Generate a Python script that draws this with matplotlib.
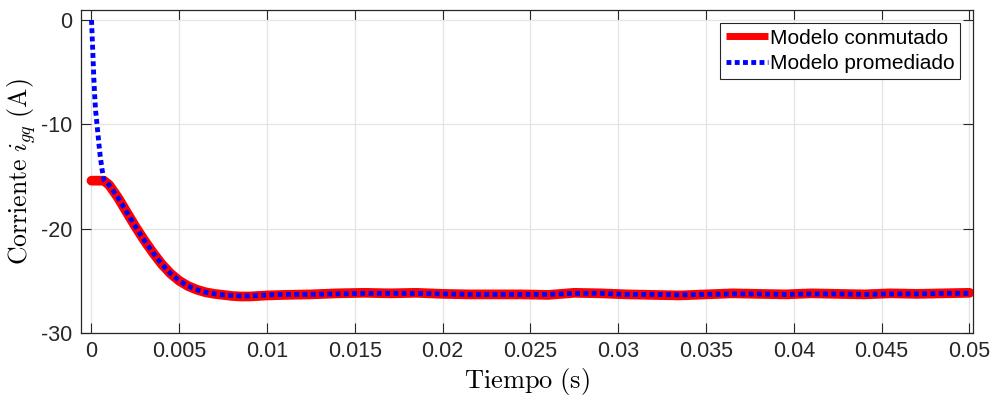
import numpy as np
import matplotlib.pyplot as plt

plt.rcParams['font.family'] = ['Liberation Sans', 'DejaVu Sans']
plt.rcParams['mathtext.fontset'] = 'cm'

# Modelo conmutado
t_conm = [0.0, 0.0003, 0.0007, 0.001, 0.0015, 0.002, 0.0025, 0.003, 0.0035,
          0.004, 0.0045, 0.005, 0.0055, 0.006, 0.0065, 0.007, 0.0075, 0.008,
          0.0085, 0.009, 0.0095, 0.010, 0.011, 0.0125, 0.014, 0.0155, 0.017,
          0.0185, 0.02, 0.0215, 0.023, 0.0245, 0.026, 0.0275, 0.029, 0.0305,
          0.032, 0.0335, 0.035, 0.0365, 0.038, 0.0395, 0.041, 0.0425, 0.044,
          0.0455, 0.047, 0.0485, 0.05]
i_conm = [-15.4, -15.4, -15.4, -15.8, -17.0, -18.4, -19.8, -21.1, -22.3,
          -23.4, -24.3, -25.0, -25.5, -25.85, -26.1, -26.25, -26.35, -26.45,
          -26.5, -26.5, -26.45, -26.4, -26.35, -26.3, -26.2, -26.15, -26.2,
          -26.15, -26.25, -26.3, -26.3, -26.3, -26.35, -26.15, -26.2, -26.3,
          -26.35, -26.4, -26.3, -26.2, -26.25, -26.3, -26.2, -26.25, -26.3,
          -26.2, -26.25, -26.2, -26.15]

# Modelo promediado
t_prom = [0.0, 0.00003, 0.00008, 0.00013, 0.00018, 0.00023, 0.0003, 0.00036,
          0.00043, 0.0005, 0.0006, 0.0007, 0.001, 0.0015, 0.002, 0.0025, 0.003,
          0.0035, 0.004, 0.0045, 0.005, 0.0055, 0.006, 0.0065, 0.007, 0.0075,
          0.008, 0.0085, 0.009, 0.0095, 0.010, 0.011, 0.0125, 0.014, 0.0155,
          0.017, 0.0185, 0.02, 0.0215, 0.023, 0.0245, 0.026, 0.0275, 0.029,
          0.0305, 0.032, 0.0335, 0.035, 0.0365, 0.038, 0.0395, 0.041, 0.0425,
          0.044, 0.0455, 0.047, 0.0485, 0.05]
i_prom = [0.0, -1.2, -3.3, -5.5, -7.2, -8.6, -9.8, -10.8, -12.0, -13.1, -14.3,
          -15.3, -15.8, -17.0, -18.4, -19.8, -21.1, -22.3, -23.4, -24.3, -25.0,
          -25.5, -25.85, -26.1, -26.25, -26.35, -26.4, -26.45, -26.45, -26.4,
          -26.35, -26.3, -26.3, -26.25, -26.2, -26.2, -26.2, -26.25, -26.3,
          -26.3, -26.3, -26.3, -26.2, -26.2, -26.3, -26.3, -26.35, -26.3,
          -26.25, -26.25, -26.3, -26.25, -26.25, -26.3, -26.25, -26.25, -26.2,
          -26.2]

fig = plt.figure(figsize=(10.07, 4.05), dpi=100)
ax = fig.add_axes([0.0804, 0.1778, 0.8858, 0.7975])

ax.plot(t_conm, i_conm, color='red', lw=7, solid_capstyle='round',
        solid_joinstyle='round', label='Modelo conmutado')
ax.plot(t_prom, i_prom, color='blue', lw=3.5, ls=(0, (1, 0.7)),
        label='Modelo promediado')

ax.set_xlim(-0.0006, 0.0502)
ax.set_ylim(-30, 0.96)
ax.set_xticks(np.arange(0, 0.0501, 0.005))
ax.set_xticklabels(['0', '0.005', '0.01', '0.015', '0.02', '0.025', '0.03',
                    '0.035', '0.04', '0.045', '0.05'])
ax.set_yticks([0, -10, -20, -30])
ax.set_yticklabels(['0', '-10', '-20', '-30'])
ax.tick_params(direction='in', top=True, right=True, length=7, width=0.8,
               labelsize=15.5, colors='#262626', pad=6)
ax.grid(True, color='#e3e3e3', lw=0.9)
for s in ax.spines.values():
    s.set_color('#262626')
    s.set_linewidth(0.9)

ax.set_xlabel(r'$\mathrm{Tiempo\ (s)}$', fontsize=19, labelpad=3)
ax.set_ylabel(r'$\mathrm{Corriente}\ i_{gq}\ \mathrm{(A)}$', fontsize=18.5,
              labelpad=2)

leg = ax.legend(loc='upper right', fontsize=15, fancybox=False,
                edgecolor='#262626', framealpha=1, handlelength=2.0,
                handletextpad=0.1, borderpad=0.3, labelspacing=0.3,
                borderaxespad=0.6)
leg.get_frame().set_linewidth(0.8)
leg.get_lines()[0].set_linewidth(5)
leg.get_lines()[0].set_solid_capstyle('butt')

fig.savefig('out.png', dpi=100)
